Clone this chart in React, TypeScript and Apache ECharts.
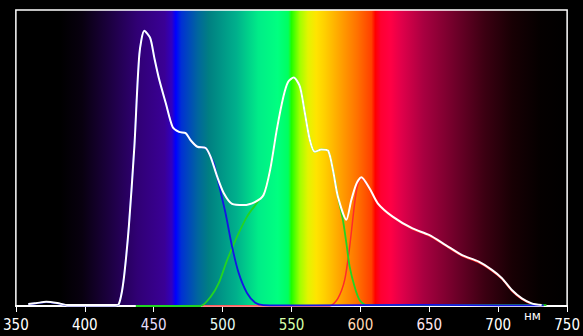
import React, { useEffect, useRef } from "react";
import * as echarts from "echarts";

// wavelength axis ticks (nm)
const xTicks = [350, 400, 450, 500, 550, 600, 650, 700, 750];
const unitLabel = "нм";

// total spectrum (white)
const whiteWl = [359, 365, 372, 380, 388, 400, 422, 424.5, 427, 429, 432, 436, 439.6, 443.2, 447.5, 450.4, 454, 458.8, 463.7, 468.4, 473.2, 476.8, 481.7, 487.7, 491.3, 496.1, 500.8, 506.9, 515.3, 523.7, 529.7, 534.5, 539.3, 544.1, 547.5, 551.6, 556.1, 559.7, 563.3, 566.9, 571.8, 576.5, 580.1, 583.7, 589.8, 593.4, 597, 600.6, 606.6, 612.6, 623.4, 637.8, 649.8, 661.9, 673.8, 685.9, 695.4, 702.7, 709.9, 717.1, 724.3, 731.5];
const whiteVal = [0.7, 1.0, 1.4, 1.0, 0.3, 0.3, 0.3, 0.5, 5, 12, 27, 54, 85, 93, 90.5, 84, 76.5, 68.5, 60.5, 58.8, 58.4, 56, 53.8, 53.4, 50.4, 43.7, 38.2, 34.5, 34.1, 35.2, 37.5, 46, 59.5, 70.7, 75.7, 77.2, 74.1, 65.2, 56.1, 52.1, 52.9, 52.5, 45.9, 36.9, 29.1, 35.8, 41.2, 43.5, 39.8, 34.7, 30.2, 26.2, 24, 20.6, 17.2, 15, 12.2, 9.4, 5.4, 2.6, 0.9, 0.3];

// blue channel
const blueWl = [359, 365, 372, 380, 388, 400, 422, 424.5, 427, 429, 432, 436, 439.6, 443.2, 447.5, 450.4, 454, 458.8, 463.7, 468.4, 473.2, 476.8, 481.7, 487.7, 491.3, 493.6, 497, 502.1, 506.9, 511.7, 517.7, 523.7, 529.5, 560, 640, 650, 700, 733];
const blueVal = [0.6, 0.9, 1.3, 0.9, 0.2, 0.2, 0.2, 0.4, 5, 12, 27, 54, 85, 93, 90.5, 84, 76.5, 68.5, 60.5, 58.8, 58.4, 56, 53.8, 53.4, 50.4, 48.3, 41.6, 31.4, 20, 11.1, 4.4, 1.1, 0.3, 0.2, 0.4, 0.4, 0.2, 0.2];

// green channel
const greenWl = [437, 484, 491.3, 497.2, 503.3, 510.5, 517.7, 524.9, 528.5, 529.7, 534.5, 539.3, 544.1, 547.5, 551.6, 556.1, 559.7, 563.3, 566.9, 571.8, 576.5, 580.1, 583.7, 587.3, 589.8, 592.2, 595.8, 599.4, 604.2, 735];
const greenVal = [0, 0, 3.1, 7.7, 15.5, 23.4, 30.2, 34.8, 36.9, 37.5, 46, 59.5, 70.7, 75.7, 77.2, 74.1, 65.2, 56.1, 52.1, 52.9, 52.5, 45.9, 36.9, 29.1, 21.3, 13.3, 6.5, 2.0, 0.3, 0.3];

// red channel
const redWl = [485, 577.7, 583.7, 588.6, 592.2, 595.8, 598, 600.6, 606.6, 612.6, 623.4, 637.8, 649.8, 661.9, 673.8, 685.9, 695.4, 702.7, 709.9, 717.1, 724.3, 731.5];
const redVal = [0, 0, 2.6, 8.8, 20, 34.7, 40.9, 43.1, 39.5, 34.4, 29.9, 25.9, 23.7, 20.3, 16.9, 14.7, 11.9, 9.1, 5.1, 2.3, 0.7, 0.2];

const pairs = (xs: number[], ys: number[]) => xs.map((x, i) => [x, ys[i]]);

const labelTint: Record<number, string> = {
  450: "#e6defc",
  500: "#e4fbf4",
  550: "#d6ffa8",
  600: "#ffd8b4",
  650: "#ffe6ee",
};

export default function App() {
  const ref = useRef<HTMLDivElement>(null);
  useEffect(() => {
    if (!ref.current) return;
    const chart = echarts.init(ref.current, null, { renderer: "svg" });
    const spectrum = new echarts.graphic.LinearGradient(0, 0, 1, 0, [
      { offset: 0, color: "#000000" },
      { offset: 0.08, color: "#000000" },
      { offset: 0.12, color: "#08000f" },
      { offset: 0.17, color: "#1c0040" },
      { offset: 0.22, color: "#300074" },
      { offset: 0.27, color: "#3a0096" },
      { offset: 0.283, color: "#3000c0" },
      { offset: 0.29, color: "#0000ff" },
      { offset: 0.3, color: "#0030d4" },
      { offset: 0.33, color: "#00669e" },
      { offset: 0.35, color: "#007f82" },
      { offset: 0.4, color: "#00b08c" },
      { offset: 0.44, color: "#00ec88" },
      { offset: 0.475, color: "#00ff80" },
      { offset: 0.494, color: "#00ff60" },
      { offset: 0.5, color: "#20ff00" },
      { offset: 0.515, color: "#a0ff00" },
      { offset: 0.53, color: "#e4f400" },
      { offset: 0.545, color: "#ffe400" },
      { offset: 0.56, color: "#ffd000" },
      { offset: 0.59, color: "#ffa000" },
      { offset: 0.62, color: "#ff7000" },
      { offset: 0.645, color: "#ff4000" },
      { offset: 0.652, color: "#ff0000" },
      { offset: 0.662, color: "#ff0030" },
      { offset: 0.68, color: "#ff0044" },
      { offset: 0.7, color: "#e0004a" },
      { offset: 0.74, color: "#a80040" },
      { offset: 0.8, color: "#6c0028" },
      { offset: 0.85, color: "#3c0012" },
      { offset: 0.9, color: "#180004" },
      { offset: 0.95, color: "#050000" },
      { offset: 1, color: "#000000" },
    ]);
    const lineSeries = (name: string, data: number[][], color: string, width: number) => ({
      name,
      type: "line",
      data,
      showSymbol: false,
      smooth: 0.25,
      lineStyle: { color, width },
      emphasis: { disabled: true },
    });
    chart.setOption({
      animation: false,
      backgroundColor: "#000000",
      grid: {
        left: 14,
        right: 14,
        top: 10,
        bottom: 30,
        show: true,
        backgroundColor: spectrum,
        borderColor: "#ffffff",
        borderWidth: 1.5,
      },
      xAxis: {
        type: "value",
        min: xTicks[0],
        max: xTicks[xTicks.length - 1],
        interval: 50,
        splitLine: { show: false },
        axisLine: { lineStyle: { color: "#ffffff", width: 2 } },
        axisTick: { length: 6, lineStyle: { color: "#ffffff", width: 1 } },
        axisLabel: {
          margin: 11,
          fontSize: 15,
          fontFamily: "'Liberation Sans Narrow', 'DejaVu Sans Condensed', 'Liberation Sans', sans-serif",
          color: (v: number) => labelTint[v] || "#ffffff",
        },
      },
      yAxis: {
        type: "value",
        min: 0,
        max: 100,
        show: false,
        splitLine: { show: false },
      },
      graphic: [
        {
          type: "text",
          left: 524,
          top: 310,
          style: {
            text: unitLabel,
            fill: "#ffffff",
            fontSize: 12,
            fontFamily: "'DejaVu Sans', sans-serif",
          },
        },
      ],
      series: [
        lineSeries("red", pairs(redWl, redVal), "#ff2a2a", 1.5),
        lineSeries("green", pairs(greenWl, greenVal), "#22d422", 1.8),
        lineSeries("blue", pairs(blueWl, blueVal), "#1414e6", 1.8),
        lineSeries("white", pairs(whiteWl, whiteVal), "#ffffff", 2),
      ],
    });
    return () => chart.dispose();
  }, []);
  return (
    <div
      ref={ref}
      style={{ position: "fixed", left: 0, top: 0, width: 583, height: 336, background: "#000" }}
    />
  );
}
